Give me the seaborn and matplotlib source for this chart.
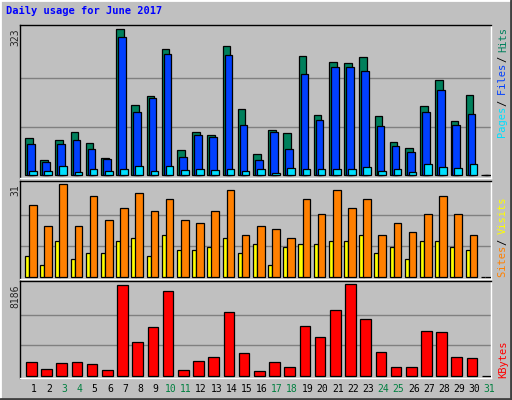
import matplotlib
matplotlib.use("Agg")
import matplotlib.pyplot as plt
import seaborn as sns
import numpy as np
import pandas as pd
from matplotlib.patches import Rectangle

days = list(range(1, 32))
hits = [82,34,77,95,71,38,323,156,176,278,55,95,90,285,147,47,99,93,263,134,250,248,261,132,73,60,152,211,121,178,0]
files = [69,29,69,79,58,36,305,139,171,268,40,90,84,265,112,34,95,58,224,123,239,239,230,108,64,51,139,189,110,136,0]
pages = [9,9,20,7,14,9,14,20,9,20,12,14,12,14,9,14,5,16,14,14,14,14,18,9,14,7,25,18,16,25,0]
sites = [7,4,12,6,8,8,12,13,7,14,9,9,10,13,8,11,4,10,11,11,12,12,14,8,10,6,12,12,10,9,0]
visits = [24,17,31,17,27,19,23,28,22,26,19,18,22,29,14,17,16,13,26,21,29,23,26,14,18,15,21,27,21,14,0]
kbytes = [1195,568,1105,1195,1016,478,8100,2988,4332,7559,478,1285,1643,5676,2002,388,1195,747,4422,3436,5856,8186,5049,2091,747,747,3974,3884,1643,1554,0]
weekend = [3,4,10,11,17,18,24,25,31]
title = "Daily usage for June 2017"

sns.set_style("white")
plt.rcParams['font.family'] = ['DejaVu Sans Mono']
BG = "#C0C0C0"
fig = plt.figure(figsize=(5.12, 4.0), dpi=100, facecolor=BG)

def fx(px): return px / 512
def fy(py): return 1 - py / 400

fig.patches.append(Rectangle((0, 0), 1, 1, transform=fig.transFigure, fill=False, edgecolor="white", lw=2))
fig.add_artist(plt.Line2D([fx(511), fx(511)], [0, 1], color="#404040", lw=2, transform=fig.transFigure))
fig.add_artist(plt.Line2D([0, 1], [fy(399), fy(399)], color="#404040", lw=2, transform=fig.transFigure))

def mkax(top, bot):
    ax = fig.add_axes([fx(20), fy(bot), fx(491 - 20), (bot - top) / 400])
    ax.set_facecolor(BG)
    for s in ax.spines.values():
        s.set_color("black"); s.set_linewidth(1)
    ax.spines['right'].set_color("white"); ax.spines['bottom'].set_color("white")
    return ax

d = np.array(days, dtype=float)

def bars(ax, x, y, color, width):
    df = pd.DataFrame({"x": x, "y": y})
    sns.barplot(data=df, x="x", y="y", native_scale=True, width=width, color=color,
                edgecolor="black", linewidth=0.9, saturation=1, ax=ax, zorder=3)
    ax.set_xlabel(""); ax.set_ylabel("")

def grid(ax, vals):
    for v in vals:
        ax.axhline(v, color="#808080", lw=1, zorder=1)

def finish(ax, ylim):
    ax.set_ylim(*ylim); ax.set_xlim(0.5, 31.5); ax.set_xticks([]); ax.set_yticks([])

ax1 = mkax(25, 178)
grid(ax1, [323/3, 2*323/3])
bars(ax1, d + 0.085, hits, "#00805C", 0.5)
bars(ax1, d + 0.215, files, "#0040FF", 0.5)
bars(ax1, d + 0.345, pages, "#00E0FF", 0.5)
finish(ax1, (-6, 332))

ax2 = mkax(181, 279)
grid(ax2, [31/3, 62/3])
bars(ax2, d - 0.03, sites, "#FFFF00", 0.28)
bars(ax2, d + 0.345, visits, "#FF8000", 0.5)
finish(ax2, (-0.8, 31.9))

ax3 = mkax(281, 378)
grid(ax3, [8186/3, 2*8186/3])
bars(ax3, d + 0.25, kbytes, "#FF0000", 0.7)
finish(ax3, (-206, 8482))

for i in days:
    fig.text(fx(20 + (i - 0.5 + 0.42) * 15.19), fy(389), str(i), ha="center", va="center",
             fontsize=7, color="#008040" if i in weekend else "black")

fig.text(fx(6), fy(11), title, fontsize=7.5, fontweight="bold", color="#0000FF", va="center")
for txt, py in [("323", 28), ("31", 184), ("8186", 284)]:
    fig.text(fx(15), fy(py), txt, rotation=90, fontsize=7, ha="center", va="top")

def vlabel(parts, ybot, pitch=5.4):
    y = ybot
    for t, c in parts:
        fig.text(fx(503), fy(y), t, rotation=90, fontsize=7.5, color=c, ha="center", va="bottom")
        y -= len(t) * pitch

vlabel([("Pages ", "#00E0FF"), ("/ ", "black"), ("Files ", "#0040FF"), ("/ ", "black"), ("Hits", "#00805C")], 138)
vlabel([("Sites ", "#FF8000"), ("/ ", "black"), ("Visits", "#FFFF00")], 277)
vlabel([("KBytes", "#FF0000")], 378)

fig.savefig("out.png", dpi=100, facecolor=BG)
